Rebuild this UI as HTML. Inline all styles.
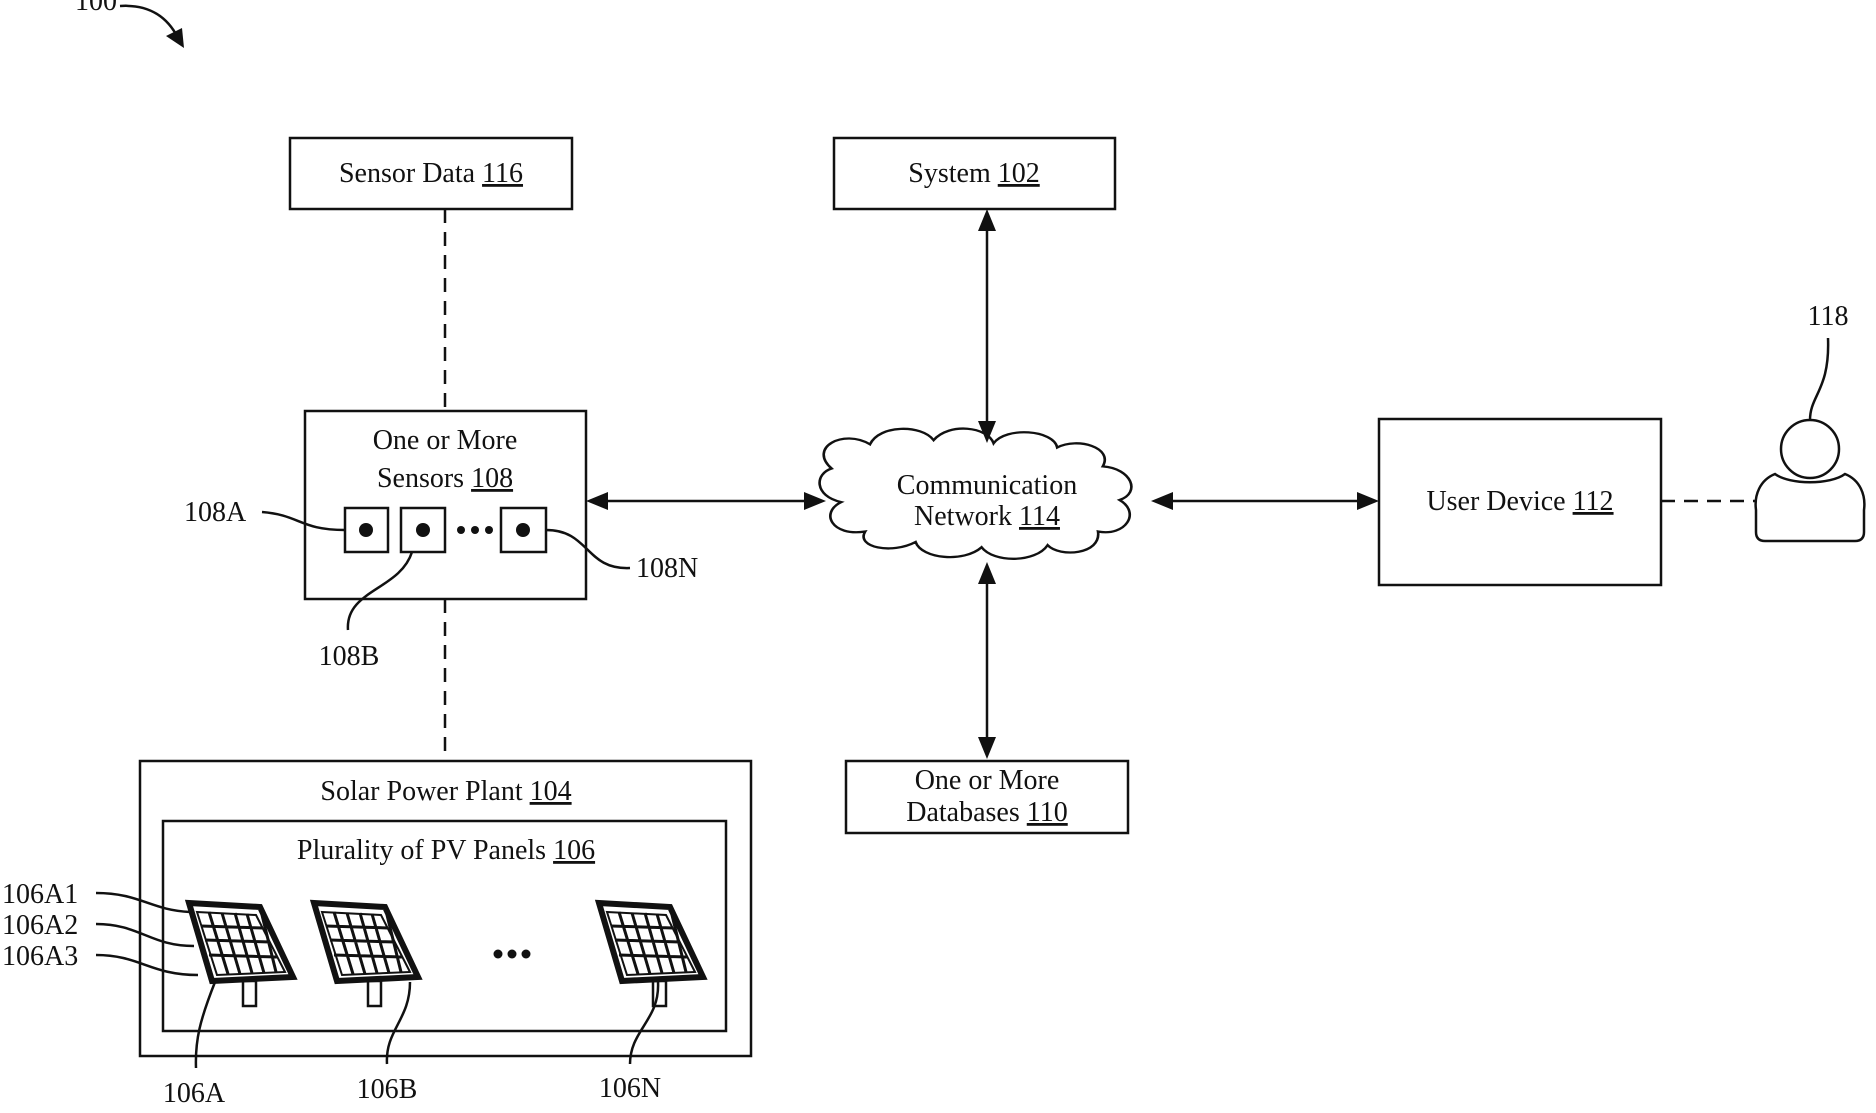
<!DOCTYPE html>
<html><head><meta charset="utf-8"><style>
html,body{margin:0;padding:0;background:#fff;}
svg{display:block;}
text{font-family:"Liberation Serif",serif;font-size:28px;fill:#111;}
</style></head><body>
<svg width="1876" height="1113" viewBox="0 0 1876 1113" xmlns="http://www.w3.org/2000/svg">
<g fill="none" stroke="#111" stroke-width="2.5">
<path d="M120,6 C150,4 168,18 178,38"/>
<rect x="290" y="138" width="282" height="71"/>
<rect x="834" y="138" width="281" height="71"/>
<rect x="305" y="411" width="281" height="188"/>
<rect x="1379" y="419" width="282" height="166"/>
<rect x="846" y="761" width="282" height="72"/>
<rect x="140" y="761" width="611" height="295"/>
<rect x="163" y="821" width="563" height="210"/>
<path d="M445,209 V411 M445,599 V761 M1661,501 H1756" stroke-dasharray="14,9"/>
<path d="M987,215 V437 M987,568 V753 M592,501 H820 M1157,501 H1373"/>
<g transform="translate(996,500) scale(1.2,1.05) translate(-987,-500)">
<path d="M850,470 C830,450 860,432 882,447 C890,428 925,428 935,443 C948,426 980,430 985,446 C995,430 1035,433 1038,450 C1055,440 1085,450 1076,468 C1100,470 1108,493 1090,500 C1108,512 1095,535 1072,530 C1075,552 1040,555 1030,543 C1020,560 985,560 975,545 C960,560 925,556 920,540 C900,552 870,545 878,530 C850,535 840,512 858,502 C835,496 836,475 850,470 z" stroke-width="2.2"/>
</g>
<rect x="345" y="508" width="43" height="44"/>
<rect x="401" y="508" width="44" height="44"/>
<rect x="501" y="508" width="45" height="44"/>
<path d="M262,512 C300,515 300,530 345,530"/>
<path d="M412,552 C400,590 345,590 348,630"/>
<path d="M546,530 C590,530 585,570 630,568"/>
<circle cx="1810" cy="449" r="29"/>
<path d="M1775,474 C1790,485 1830,485 1845,474 C1860,480 1866,495 1864,510 V532 Q1864,541 1855,541 H1765 Q1756,541 1756,532 V510 C1754,495 1760,480 1775,474 z"/>
<path d="M1810,420 C1810,395 1830,390 1828,338"/>
<path d="M96,893 C140,893 150,910 190,912"/>
<path d="M96,924 C140,924 150,946 194,946"/>
<path d="M96,955 C140,955 150,975 198,975"/>
<path d="M215,982 C200,1020 195,1040 196,1068"/>
<path d="M410,982 C410,1020 385,1030 387,1064"/>
<path d="M658,982 C660,1020 630,1030 630,1064"/>
</g>
<g fill="#111">
<polygon points="987,209 978,231 996,231"/>
<polygon points="987,443 978,421 996,421"/>
<polygon points="987,562 978,584 996,584"/>
<polygon points="987,759 978,737 996,737"/>
<polygon points="586,501 608,492 608,510"/>
<polygon points="826,501 804,492 804,510"/>
<polygon points="1151,501 1173,492 1173,510"/>
<polygon points="1379,501 1357,492 1357,510"/>
<polygon points="184,48 166,36 182,28"/>
<circle cx="366" cy="530" r="7"/><circle cx="423" cy="530" r="7"/><circle cx="523" cy="530" r="7"/>
<circle cx="461" cy="530" r="4"/><circle cx="475" cy="530" r="4"/><circle cx="489" cy="530" r="4"/>
<circle cx="498" cy="954" r="4.5"/><circle cx="512" cy="954" r="4.5"/><circle cx="526" cy="954" r="4.5"/>
</g>
<g id="pn" stroke="#111" fill="none">
<path d="M189,903 L260,907 L293,977 L212,981 z" stroke-width="6"/>
<path d="M197,912 L256,915 L285,972 L217,975 z" stroke-width="2" fill="#fff"/>
<path d="M209,912 L228,974 M222,913 L240,974 M235,913 L252,973 M247,914 L264,973 M262,915 L276,972 M201,926 L263,928 M205,940 L270,942 M209,955 L277,957" stroke-width="3"/>
<rect x="243" y="981" width="13" height="25" stroke-width="2.5"/>
</g>
<use href="#pn" x="125"/>
<use href="#pn" x="410"/>
<g text-anchor="middle">
<text x="431" y="182">Sensor Data <tspan text-decoration="underline">116</tspan></text>
<text x="974" y="182">System <tspan text-decoration="underline">102</tspan></text>
<text x="445" y="449">One or More</text>
<text x="445" y="487">Sensors <tspan text-decoration="underline">108</tspan></text>
<text x="987" y="494">Communication</text>
<text x="987" y="525">Network <tspan text-decoration="underline">114</tspan></text>
<text x="1520" y="510">User Device <tspan text-decoration="underline">112</tspan></text>
<text x="987" y="789">One or More</text>
<text x="987" y="821">Databases <tspan text-decoration="underline">110</tspan></text>
<text x="446" y="800">Solar Power Plant <tspan text-decoration="underline">104</tspan></text>
<text x="446" y="859">Plurality of PV Panels <tspan text-decoration="underline">106</tspan></text>
<text x="194" y="1102">106A</text>
<text x="387" y="1098">106B</text>
<text x="630" y="1097">106N</text>
<text x="1828" y="325">118</text>
<text x="349" y="665">108B</text>
</g>
<text x="184" y="521">108A</text>
<text x="636" y="577">108N</text>
<text x="2" y="903">106A1</text>
<text x="2" y="934">106A2</text>
<text x="2" y="965">106A3</text>
<text x="75" y="10">100</text>
</svg>
</body></html>
